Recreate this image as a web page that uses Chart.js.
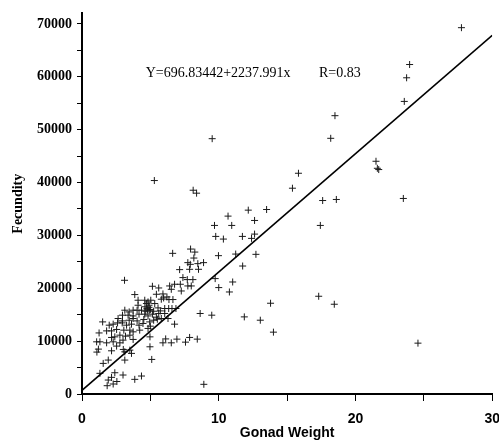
<!DOCTYPE html>
<html>
<head>
<meta charset="utf-8">
<script src="https://cdn.jsdelivr.net/npm/chart.js@4.4.0/dist/chart.umd.min.js"></script>
<style>
  html, body { margin: 0; padding: 0; background: #fff; overflow: hidden; }
  #wrap { width: 510px; height: 442px; }
</style>
</head>
<body>
<div id="wrap"><canvas id="fecundityChart"></canvas></div>
<script>
// Gonad weight (x) and fecundity (y) for each fish
const gonadWeight = [
  27.75, 23.96, 23.74, 23.57, 18.5, 18.19, 9.52, 15.83, 15.39, 5.29,
  8.13, 8.38, 21.5, 21.6, 21.7, 17.6, 18.6, 23.5, 13.5, 12.16,
  10.68, 12.62, 9.69, 10.95, 17.43, 9.78, 10.34, 11.73, 12.4, 12.62,
  12.72, 11.24, 9.98, 6.63, 7.94, 8.25, 8.18, 11.75, 11.02, 10.78,
  13.79, 17.31, 18.45, 11.87, 13.04, 14.0, 24.57, 8.91,
  7.74, 7.92, 8.47, 8.89, 7.14, 7.87, 8.52, 7.38, 7.70, 8.11,
  6.77, 7.19, 7.74, 7.99, 6.41, 6.53, 7.26, 5.61, 9.74, 10.0,
  5.44, 5.80, 5.97, 6.36, 6.65, 5.32, 5.56, 5.73, 6.05, 6.34,
  6.58, 6.87, 8.64, 9.49, 6.77, 6.29, 5.92, 6.21, 5.61, 5.44,
  5.8, 6.05, 5.51,
  6.12, 5.92, 6.53, 6.94, 7.57, 7.87, 8.43, 3.86, 4.35, 5.1,
  4.97, 4.97, 3.0, 3.74,
  5.15, 3.11, 3.86, 4.10, 4.59, 4.83, 5.03, 4.10, 4.71, 4.90,
  3.13, 3.45, 3.74, 4.03, 4.35, 4.66, 4.95, 5.24, 2.96, 3.37,
  3.74, 4.17, 4.59, 4.83, 5.15, 2.64, 2.96, 3.45, 3.74, 4.03,
  4.52, 4.95, 5.24, 1.51, 1.99, 2.28, 2.60, 2.94, 3.26, 3.62,
  4.17, 4.46, 5.0, 4.75, 4.8, 4.6, 4.9, 5.0,
  1.25, 1.80, 2.16, 2.53, 3.06, 3.50, 3.74, 4.22, 4.83, 2.16,
  2.40, 2.77, 3.18, 3.50, 1.80, 2.28, 2.77, 2.53, 1.07, 1.31,
  1.2, 1.09, 2.16, 3.02, 3.50, 3.13, 1.55, 1.92, 3.62, 3.13,
  1.31, 2.40, 3.0, 2.16, 1.92, 2.55, 1.84, 2.28
];
const fecundity = [
  69300, 62330, 59820, 55350, 52650, 48370, 48300, 41760, 38930, 40380,
  38550, 37990, 44030, 42700, 42460, 36600, 36800, 36990, 34900, 34780,
  33650, 32830, 31890, 31890, 31890, 29810, 29310, 29810, 29440, 30250,
  26420, 26470, 26170, 26610, 27420, 26850, 25720, 24210, 21190, 19300,
  17170, 18490, 16980, 14590, 13960, 11700, 9620, 1830,
  24850, 24530, 24660, 24850, 23530, 23590, 23590, 22020, 21640, 21640,
  20760, 20760, 20440, 20440, 20440, 19810, 19490, 20060, 21830, 20130,
  18870, 17930, 18170, 17870, 17870, 17110, 16290, 15720, 16170, 16170,
  16170, 16170, 15230, 14910, 13210, 14280, 18930, 18360, 15220, 14530,
  14280, 15230, 14150,
  10420, 9680, 9680, 10380, 9810, 10700, 10380, 2770, 3400, 6540,
  10810, 8930, 10190, 10320,
  20380, 21510, 18810, 17740, 17740, 17420, 17740, 16790, 17110, 16790,
  15850, 15530, 15850, 15850, 15850, 15660, 15850, 15660, 14910, 14910,
  14770, 15100, 15100, 14770, 15100, 14280, 13830, 13960, 14280, 13830,
  14100, 13640, 13960, 13640, 13020, 13210, 13450, 13450, 13020, 13210,
  13020, 13340, 12830, 16200, 15900, 16500, 16400, 16000,
  11550, 11940, 11940, 12210, 12080, 12080, 11760, 12080, 12400, 10700,
  10810, 11130, 10940, 11130, 9680, 9870, 9680, 9060, 9870, 9870,
  8490, 7930, 8170, 8430, 8300, 7980, 5790, 6420, 7680, 6420,
  3910, 4020, 3590, 3150, 2640, 2360, 1570, 1890
];

// Linear fit reported on the plot
const intercept = 696.83442;
const slope = 2237.991;
const rValue = 0.83;

// Axis ranges, tick marks and labelled ticks
const xRange = [0, 30];
const yRange = [0, 72000];
const xTickMarks = [0, 5, 10, 15, 20, 25, 30];
const xTickLabels = [0, 10, 20, 30];
const yTickMarks = [0, 5000, 10000, 15000, 20000, 25000, 30000, 35000,
  40000, 45000, 50000, 55000, 60000, 65000, 70000];
const yTickLabels = [0, 10000, 20000, 30000, 40000, 50000, 60000, 70000];

const serif = '"Liberation Serif", "Times New Roman", serif';
const sans = '"Liberation Sans", Arial, sans-serif';

const points = gonadWeight.map((x, i) => ({ x, y: fecundity[i] }));
const fitLine = xRange.map((x) => ({ x, y: intercept + slope * x }));

// Regression equation written inside the plot
const equationLabel = {
  id: 'equationLabel',
  afterDatasetsDraw(chart) {
    const { ctx, scales } = chart;
    const y = scales.y.getPixelForValue(60000);
    ctx.save();
    ctx.font = '14px ' + serif;
    ctx.fillStyle = '#000';
    ctx.textBaseline = 'alphabetic';
    ctx.fillText('Y=' + intercept + '+' + slope + 'x', scales.x.getPixelForValue(4.66), y);
    ctx.fillText('R=' + rValue, scales.x.getPixelForValue(17.33), y);
    ctx.restore();
  },
};

const ctx = document.getElementById('fecundityChart');

new Chart(ctx, {
  type: 'scatter',
  data: {
    datasets: [
      {
        type: 'line',
        data: fitLine,
        borderColor: '#000',
        borderWidth: 1.5,
        pointRadius: 0,
        fill: false,
      },
      {
        data: points,
        pointStyle: 'cross',
        pointRadius: 3.5,
        borderWidth: 1,
        borderColor: '#1a1a1a',
        backgroundColor: '#1a1a1a',
      },
    ],
  },
  options: {
    responsive: true,
    maintainAspectRatio: false,
    animation: false,
    layout: { padding: { top: 12, left: 0, right: 0, bottom: 0 } },
    plugins: {
      legend: { display: false },
      tooltip: { enabled: false },
    },
    scales: {
      x: {
        type: 'linear',
        min: xRange[0],
        max: xRange[1],
        afterBuildTicks: (scale) => {
          scale.ticks = xTickMarks.map((value) => ({ value }));
        },
        afterFit: (scale) => {
          scale.height = 48;
        },
        border: { display: true, color: '#000', width: 2 },
        grid: { drawOnChartArea: false, drawTicks: true, tickLength: 7, color: '#000', lineWidth: 1 },
        ticks: {
          padding: 10,
          color: '#000',
          maxRotation: 0,
          autoSkip: false,
          font: { family: sans, size: 14, weight: 'bold' },
          callback: (v) => (xTickLabels.includes(v) ? String(v) : ''),
        },
        title: {
          display: true,
          text: 'Gonad Weight',
          color: '#000',
          font: { family: sans, size: 14, weight: 'bold' },
          padding: { top: 0, bottom: 0 },
        },
      },
      y: {
        type: 'linear',
        min: yRange[0],
        max: yRange[1],
        afterBuildTicks: (scale) => {
          scale.ticks = yTickMarks.map((value) => ({ value }));
        },
        afterFit: (scale) => {
          scale.width = 82;
        },
        border: { display: true, color: '#000', width: 2 },
        grid: { drawOnChartArea: false, drawTicks: true, tickLength: 5, color: '#000', lineWidth: 1 },
        ticks: {
          padding: 5,
          color: '#000',
          autoSkip: false,
          font: { family: serif, size: 14, weight: 'bold' },
          callback: (v) => (yTickLabels.includes(v) ? String(v) : ''),
        },
        title: {
          display: true,
          text: 'Fecundity',
          color: '#000',
          font: { family: serif, size: 14, weight: 'bold' },
          padding: { top: 10, bottom: 0 },
        },
      },
    },
  },
  plugins: [equationLabel],
});
</script>
</body>
</html>
